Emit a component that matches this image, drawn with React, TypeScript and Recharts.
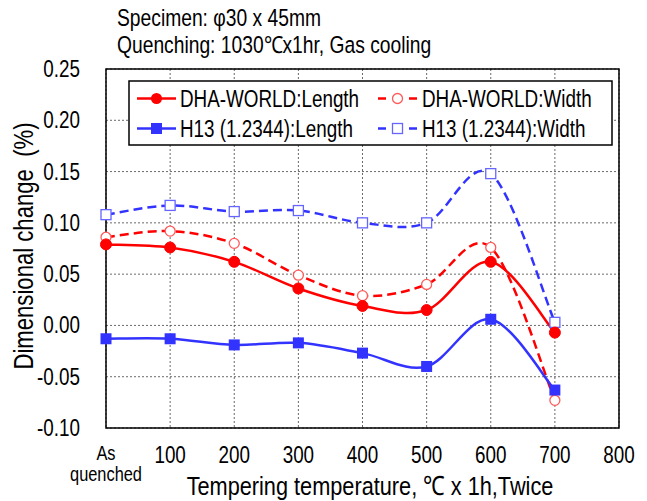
import { LineChart, Line, XAxis, YAxis, CartesianGrid, ReferenceArea } from "recharts";

const temps = [0, 100, 200, 300, 400, 500, 600, 700];
const dhaLength = [0.079, 0.076, 0.062, 0.036, 0.019, 0.015, 0.062, -0.007];
const dhaWidth = [0.086, 0.092, 0.08, 0.049, 0.029, 0.04, 0.076, -0.073];
const h13Length = [-0.013, -0.013, -0.019, -0.017, -0.027, -0.04, 0.006, -0.063];
const h13Width = [0.108, 0.117, 0.111, 0.112, 0.1, 0.1, 0.148, 0.003];

const xTicks = [0, 100, 200, 300, 400, 500, 600, 700, 800];
const yTicks = [-0.1, -0.05, 0, 0.05, 0.1, 0.15, 0.2, 0.25];

const RED = "#ff0000";
const RED_LIGHT = "#ff5a5a";
const BLUE = "#3333ff";
const BLUE_LIGHT = "#6666ff";
const FONT = "'Liberation Sans', Arial, sans-serif";
const SQUEEZE = 0.82; // narrow look of the original font

const data = temps.map((t, i) => ({
  temp: t,
  dhaLength: dhaLength[i],
  dhaWidth: dhaWidth[i],
  h13Length: h13Length[i],
  h13Width: h13Width[i],
}));

// excel-like smoothed line (bezier through every point)
const smoothCurve = (context: any) => {
  let pts: number[][] = [];
  return {
    areaStart() {},
    areaEnd() {},
    lineStart() {
      pts = [];
    },
    point(x: number, y: number) {
      pts.push([+x, +y]);
    },
    lineEnd() {
      const n = pts.length;
      if (!n) return;
      context.moveTo(pts[0][0], pts[0][1]);
      for (let i = 0; i < n - 1; i++) {
        const p0 = pts[Math.max(i - 1, 0)];
        const p1 = pts[i];
        const p2 = pts[i + 1];
        const p3 = pts[Math.min(i + 2, n - 1)];
        context.bezierCurveTo(
          p1[0] + (p2[0] - p0[0]) / 6,
          p1[1] + (p2[1] - p0[1]) / 6,
          p2[0] - (p3[0] - p1[0]) / 6,
          p2[1] - (p3[1] - p1[1]) / 6,
          p2[0],
          p2[1]
        );
      }
    },
  };
};

// narrow text: squeezed horizontally around its anchor point
const NText = ({ x, y, size, anchor = "start", rotate = 0, children }: any) => (
  <text
    transform={`translate(${x},${y}) rotate(${rotate}) scale(${SQUEEZE},1)`}
    fontSize={size}
    fontFamily={FONT}
    textAnchor={anchor}
    fill="#000"
    xmlSpace="preserve"
  >
    {children}
  </text>
);

const filledCircle = (p: any) => <circle key={`fc-${p.index}`} cx={p.cx} cy={p.cy} r={5.5} fill={RED} stroke={RED} />;
const openCircle = (p: any) => <circle key={`oc-${p.index}`} cx={p.cx} cy={p.cy} r={5} fill="#fff" stroke={RED_LIGHT} strokeWidth={1.3} />;
const filledSquare = (p: any) => <rect key={`fs-${p.index}`} x={p.cx - 5.5} y={p.cy - 5.5} width={11} height={11} fill={BLUE} />;
const openSquare = (p: any) => (
  <rect key={`os-${p.index}`} x={p.cx - 5} y={p.cy - 5} width={10} height={10} fill="#fff" stroke={BLUE_LIGHT} strokeWidth={1.3} />
);

const XTick = ({ x, y, payload }: any) => {
  if (payload.value === 0) {
    return (
      <g>
        <NText x={x} y={y + 32} size={20} anchor="middle">As</NText>
        <NText x={x} y={y + 53} size={20} anchor="middle">quenched</NText>
      </g>
    );
  }
  return (
    <NText x={x} y={y + 35} size={23} anchor="middle">
      {payload.value}
    </NText>
  );
};

const YTick = ({ x, y, payload }: any) => (
  <NText x={x} y={y + 8} size={23} anchor="end">
    {payload.value.toFixed(2)}
  </NText>
);

const legendItems = [
  { label: "DHA-WORLD:Length", color: RED, dashed: false, shape: "fc", col: 0, row: 0 },
  { label: "DHA-WORLD:Width", color: RED, dashed: true, shape: "oc", col: 1, row: 0 },
  { label: "H13 (1.2344):Length", color: BLUE, dashed: false, shape: "fs", col: 0, row: 1 },
  { label: "H13 (1.2344):Width", color: BLUE, dashed: true, shape: "os", col: 1, row: 1 },
];

const LegendIcon = ({ item, x, y }: any) => {
  const line = item.dashed ? (
    <g stroke={item.color} strokeWidth={2.5}>
      <line x1={x} y1={y} x2={x + 8} y2={y} />
      <line x1={x + 31} y1={y} x2={x + 39} y2={y} />
    </g>
  ) : (
    <line x1={x} y1={y} x2={x + 39} y2={y} stroke={item.color} strokeWidth={2.5} />
  );
  const cx = x + 19.5;
  let marker = null;
  if (item.shape === "fc") marker = <circle cx={cx} cy={y} r={5.5} fill={RED} />;
  if (item.shape === "oc") marker = <circle cx={cx} cy={y} r={5} fill="#fff" stroke={RED_LIGHT} strokeWidth={1.3} />;
  if (item.shape === "fs") marker = <rect x={cx - 5.5} y={y - 5.5} width={11} height={11} fill={BLUE} />;
  if (item.shape === "os") marker = <rect x={cx - 5} y={y - 5} width={10} height={10} fill="#fff" stroke={BLUE_LIGHT} strokeWidth={1.3} />;
  return (
    <g>
      {line}
      {marker}
    </g>
  );
};

export default function App() {
  return (
    <div style={{ position: "absolute", left: 0, top: 0, width: 647, height: 501, background: "#fff" }}>
      <LineChart width={647} height={501} data={data} margin={{ top: 69, right: 28, bottom: 0, left: 0 }}>
        <CartesianGrid stroke="#444" strokeDasharray="2 2" strokeWidth={0.8} />
        <XAxis
          dataKey="temp"
          type="number"
          domain={[0, 800]}
          ticks={xTicks}
          height={73}
          axisLine={false}
          tickLine={false}
          tickSize={0}
          tickMargin={0}
          tick={<XTick />}
          interval={0}
        />
        <YAxis
          type="number"
          domain={[-0.1, 0.25]}
          ticks={yTicks}
          width={106}
          axisLine={false}
          tickLine={false}
          tickSize={0}
          tickMargin={26}
          interval={0}
          tick={<YTick />}
        />
        <ReferenceArea x1={0} x2={800} y1={-0.1} y2={0.25} fill="none" stroke="#000" strokeWidth={1.5} ifOverflow="visible" />
        <Line dataKey="h13Width" type={smoothCurve as any} stroke={BLUE} strokeWidth={2.5} strokeDasharray="9 5" dot={openSquare} isAnimationActive={false} />
        <Line dataKey="dhaWidth" type={smoothCurve as any} stroke={RED} strokeWidth={2.5} strokeDasharray="9 5" dot={openCircle} isAnimationActive={false} />
        <Line dataKey="h13Length" type={smoothCurve as any} stroke={BLUE} strokeWidth={2.5} dot={filledSquare} isAnimationActive={false} />
        <Line dataKey="dhaLength" type={smoothCurve as any} stroke={RED} strokeWidth={2.5} dot={filledCircle} isAnimationActive={false} />
      </LineChart>
      <svg width={647} height={501} style={{ position: "absolute", left: 0, top: 0, pointerEvents: "none" }}>
        <NText x={117} y={26} size={23.5}>Specimen: φ30 x 45mm</NText>
        <NText x={117} y={53} size={23.5}>Quenching: 1030℃x1hr, Gas cooling</NText>
        <NText x={33} y={246} size={27} anchor="middle" rotate={-90}>Dimensional change  (%)</NText>
        <NText x={370} y={495} size={26.5} anchor="middle">Tempering temperature, ℃ x 1h,Twice</NText>
        <rect x={129} y={81} width={483} height={64} fill="#fff" stroke="#000" strokeWidth={1.5} />
        {legendItems.map((item) => {
          const ix = item.col === 0 ? 137 : 378;
          const tx = item.col === 0 ? 180 : 422;
          const cy = item.row === 0 ? 98.5 : 128.5;
          return (
            <g key={item.label}>
              <LegendIcon item={item} x={ix} y={cy} />
              <NText x={tx} y={cy + 8} size={23}>{item.label}</NText>
            </g>
          );
        })}
      </svg>
    </div>
  );
}
